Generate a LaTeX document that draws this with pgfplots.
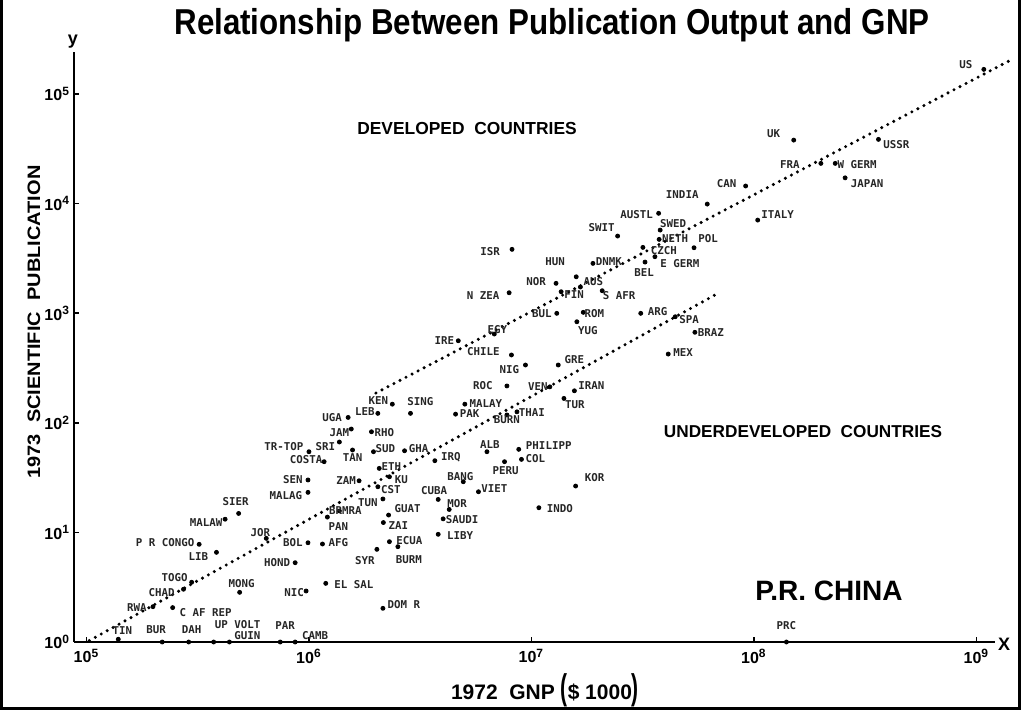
\documentclass[border=0pt]{standalone}
\usepackage{pgfplots}
\pgfplotsset{compat=1.18}
\usepackage{pgfplotstable}
\usepackage{graphicx}
\usepackage{fontspec}
\setmainfont{Liberation Sans}
\newfontfamily\labfont{DejaVu Sans Mono}

\pgfplotstableread[col sep=comma]{
x,y,dx,dy,label
1.0e6,54.5,-25,-5,TR-TOP
1.37e6,66.8,-14,5,SRI
1.17e6,44.2,-18,-2,COSTA
9.9e5,30.1,-15,0,SEN
9.9e5,23.2,-22,3,MALAG
4.83e5,14.9,-3,-12,SIER
4.2e5,13.2,-19,3,MALAW
6.43e5,8.83,-6,-6,JOR
9.9e5,8.05,-15,0,BOL
1.15e6,7.84,16,-1,AFG
3.21e5,7.79,-34,-2,P R CONGO
3.84e5,6.58,-18,4,LIB
8.67e5,5.29,-18,0,HOND
2.97e5,3.51,-17,-5,TOGO
4.88e5,2.84,2,-9,MONG
2.73e5,3.03,-22,3,CHAD
9.71e5,2.92,-12,2,NIC
1.19e6,3.43,28,1,EL SAL
1.99e5,2.10,-16,1,RWA
2.44e5,2.06,33,5,C AF REP
1.39e5,1.06,4,-9,TIN
2.19e5,1,-6,-12,BUR
2.88e5,1,3,-12,DAH
3.73e5,1,24,-17,UP VOLT
4.39e5,1,18,-6,GUIN
7.43e5,1,5,-16,PAR
8.67e5,1,20,-6,CAMB
7.76e6,217,-24,0,ROC
1.21e7,213,-12,0,VEN
1.56e7,196,17,-5,IRAN
1.40e7,167,11,6,TUR
2.37e6,148,-14,-4,KEN
2.86e6,122,10,-12,SING
5.02e6,148,21,-1,MALAY
4.56e6,120,14,-1,PAK
8.61e6,126,15,1,THAI
7.76e6,118,0,5,BURN
1.50e6,112,-16,0,UGA
2.04e6,122,-13,-2,LEB
1.55e6,87.8,-12,4,JAM
1.91e6,82.9,13,1,RHO
1.57e6,56.5,0,8,TAN
1.95e6,54.5,12,-3,SUD
2.69e6,55.6,14,-2,GHA
3.68e6,45.1,16,-3,IRQ
6.31e6,54.5,3,-7,ALB
8.77e6,57.3,30,-4,PHILIPP
9.02e6,46.4,14,-1,COL
7.57e6,44.2,1,9,PERU
2.07e6,38.4,12,-2,ETH
1.68e6,29.6,-13,0,ZAM
2.30e6,32.2,12,3,KU
2.04e6,26.1,13,3,CST
3.81e6,20.0,-4,-9,CUBA
4.94e6,29.0,-3,-5,BANG
5.78e6,23.5,16,-3,VIET
1.58e7,26.5,19,-8,KOR
2.15e6,20.2,-15,4,TUN
1.37e6,15.7,6,0,BRMRA
1.21e6,13.8,11,9,PAN
2.28e6,14.4,19,-6,GUAT
4.27e6,16.2,8,-6,MOR
2.16e6,12.3,15,3,ZAI
4.01e6,13.3,19,1,SAUDI
2.30e6,8.23,20,-1,ECUA
3.81e6,9.61,22,1,LIBY
2.02e6,7.01,-12,11,SYR
2.51e6,7.41,11,13,BURM
1.08e7,16.8,21,1,INDO
2.15e6,2.03,21,-4,DOM R
8.18e6,3830,-22,2,ISR
1.59e7,2150,-21,-15,HUN
1.89e7,2850,16,-2,DNMK
1.29e7,1875,-20,-2,NOR
1.66e7,1734,13,-5,AUS
1.36e7,1571,13,3,FIN
2.08e7,1604,17,5,S AFR
7.94e6,1538,-26,3,N ZEA
1.30e7,998,-15,0,BUL
1.71e7,1019,11,1,ROM
1.60e7,836,11,9,YUG
3.10e7,998,17,-2,ARG
6.81e6,646,3,-4,EGY
4.69e6,561,-14,0,IRE
8.13e6,416,-28,-3,CHILE
9.40e6,337,-16,5,NIG
1.32e7,337,16,-5,GRE
9.18e7,14490,-19,-2,CAN
6.17e7,9910,-25,-10,INDIA
3.73e7,8160,-22,1,AUSTL
3.79e7,5740,13,-6,SWED
2.44e7,5060,-16,-8,SWIT
3.75e7,4720,16,-1,NETH
5.38e7,3960,14,-9,POL
3.17e7,3990,21,3,CZCH
3.59e7,3280,25,7,E GERM
3.24e7,2930,-1,10,BEL
4.43e7,929,14,3,SPA
5.43e7,670,16,0,BRAZ
4.12e7,424,15,-2,MEX
1.08e9,1.68e5,-18,-5,US
1.51e8,38000,-20,-6,UK
3.63e8,38600,18,5,USSR
2.00e8,23300,-31,1,FRA
2.32e8,23300,22,1,W GERM
2.57e8,17200,22,6,JAPAN
1.04e8,7080,20,-6,ITALY
1.40e8,1,0,-16,PRC
}\countries

\begin{document}
\begin{tikzpicture}
\useasboundingbox (0pt,0pt) rectangle (510.5pt,-355pt);
\begin{axis}[
  at={(37pt,-321pt)}, anchor=south west,
  scale only axis, width=460.5pt, height=295pt,
  xmode=log, ymode=log,
  xmin=8.79e4, xmax=1.213e9,
  ymin=1, ymax=2.42e5,
  axis lines=left,
  axis line style={-, line width=0.9pt, black},
  tick align=inside, major tick length=2.5pt,
  tick style={black, line width=0.8pt},
  xminorticks=false, yminorticks=false,
  xtick={1e5,1e6,1e7,1e8,1e9},
  xticklabels={10\textsuperscript{5},10\textsuperscript{6},10\textsuperscript{7},10\textsuperscript{8},10\textsuperscript{9}},
  ytick={1,10,100,1000,10000,100000},
  yticklabels={10\textsuperscript{0},10\textsuperscript{1},10\textsuperscript{2},10\textsuperscript{3},10\textsuperscript{4},10\textsuperscript{5}},
  ticklabel style={font=\fontsize{8}{10}\selectfont\bfseries},
  yticklabel style={xshift=1.5pt},
  clip=false,
]
\addplot[black, line width=1.7pt, dash pattern=on 0pt off 3.4pt, line cap=round]
  coordinates {(2.0e6,187) (1.45e9,2.08e5)};
\addplot[black, line width=1.7pt, dash pattern=on 0pt off 3.4pt, line cap=round]
  coordinates {(1.03e5,1.03) (6.89e7,1518)};
\addplot[only marks, mark=*, mark size=1pt, black,
  point meta=explicit symbolic,
  nodes near coords,
  visualization depends on={\thisrow{dx}\as\offx},
  visualization depends on={\thisrow{dy}\as\offy},
  every node near coord/.append style={anchor=center, inner sep=0pt,
     xshift=\offx*0.5pt, yshift=-\offy*0.5pt,
     font={\labfont\fontsize{5.4}{6}\selectfont\bfseries}, text=black!85}]
  table[x=x, y=y, meta=label] {\countries};
\end{axis}
\begin{scope}[x=0.5pt,y=-0.5pt]
  \node at (552,25) {\scalebox{0.87}[1]{\fontsize{18}{20}\selectfont\bfseries Relationship Between Publication Output and GNP}};
  \node at (467,129) {\fontsize{8.7}{10}\selectfont\bfseries DEVELOPED\ \ COUNTRIES};
  \node at (803,432) {\fontsize{8.6}{10}\selectfont\bfseries UNDERDEVELOPED\ \ COUNTRIES};
  \node at (829,591) {\fontsize{14}{16}\selectfont\bfseries P.R. CHINA};
  \node[rotate=90] at (34,322) {\scalebox{1}[0.9]{\fontsize{10}{12}\selectfont\bfseries 1973\ \ SCIENTIFIC\ \ PUBLICATION}};
  \node at (545,690) {\fontsize{10.5}{12}\selectfont\bfseries 1972\ \ GNP\ \scalebox{1}[1.7]{(}\$\ 1000\scalebox{1}[1.7]{)}};
  \node at (73,42) {\fontsize{9}{10}\selectfont\bfseries y};
  \node at (1004,644) {\fontsize{9}{10}\selectfont\bfseries X};
  \draw[line width=1.5pt] (1.5,0) -- (1.5,708.5) -- (1019.5,708.5) -- (1019.5,0);
\end{scope}
\end{tikzpicture}
\end{document}
